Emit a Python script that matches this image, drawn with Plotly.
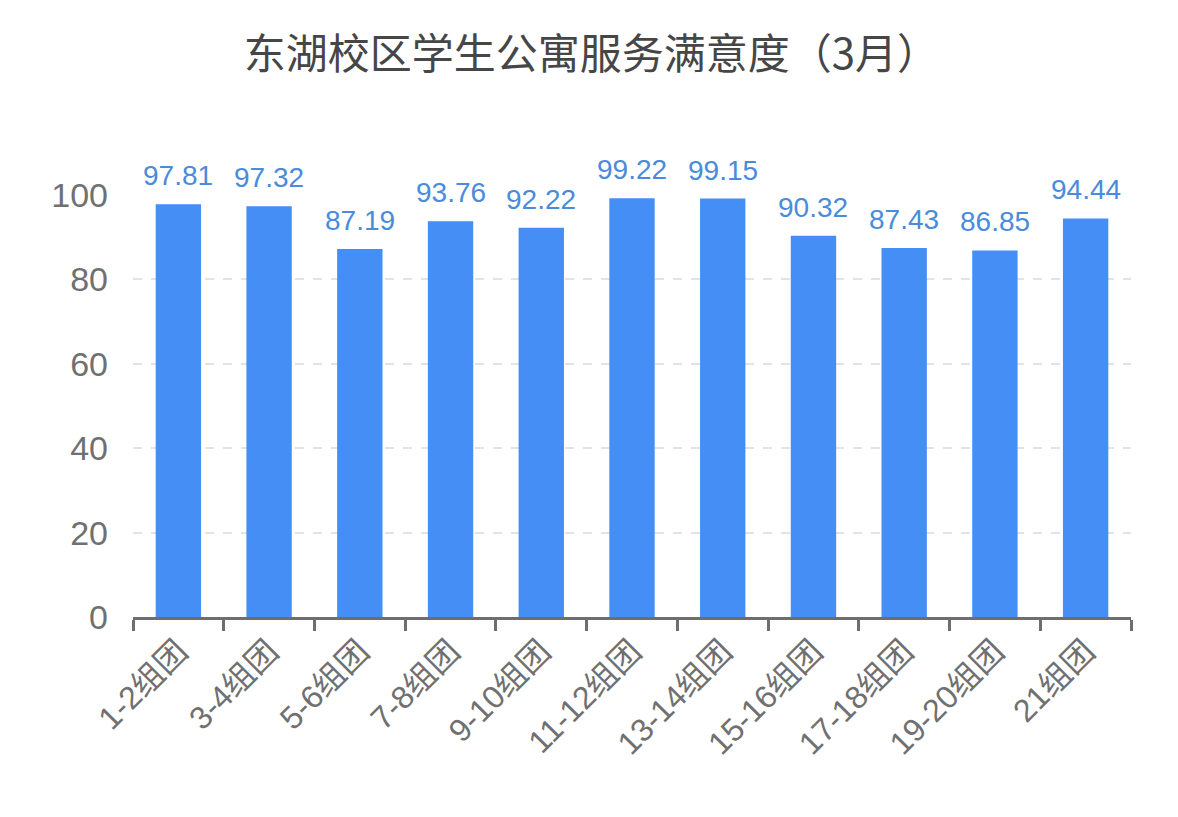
import plotly.graph_objects as go

# 东湖校区学生公寓服务满意度（3月）
groups = ["1-2组团", "3-4组团", "5-6组团", "7-8组团", "9-10组团", "11-12组团",
          "13-14组团", "15-16组团", "17-18组团", "19-20组团", "21组团"]
scores = [97.81, 97.32, 87.19, 93.76, 92.22, 99.22, 99.15, 90.32, 87.43, 86.85, 94.44]
y_ticks = [0, 20, 40, 60, 80, 100]

FONT = "Liberation Sans, Noto Sans CJK SC, sans-serif"
BAR_COLOR = "#458ef5"
LABEL_COLOR = "#4a8bdb"
AXIS_GREY = "#6e6e6e"

fig = go.Figure(go.Bar(
    x=groups,
    y=scores,
    marker=dict(color=BAR_COLOR, line=dict(width=0)),
    hovertemplate="%{x}: %{y:.2f}<extra></extra>",
))

# value labels sit a little higher than plotly's own outside text
for g, v in zip(groups, scores):
    fig.add_annotation(
        x=g, y=v, text=f"{v:.2f}",
        showarrow=False, yanchor="bottom", yshift=11,
        font=dict(size=28, color=LABEL_COLOR, family=FONT),
    )

# the page body has an 8px margin, so the figure is sized to fit inside it
fig.update_layout(
    width=1162,
    height=801,
    paper_bgcolor="white",
    plot_bgcolor="white",
    font=dict(family=FONT, color=AXIS_GREY),
    margin=dict(t=187, b=192, l=125, r=39),
    bargap=0.5,
    showlegend=False,
    title=dict(
        text="东湖校区学生公寓服务满意度（3月）",
        x=0.502, xanchor="center",
        y=0.942, yanchor="middle",
        font=dict(size=42, color="#464646", family="Noto Sans CJK SC, sans-serif"),
    ),
    xaxis=dict(
        type="category",
        tickangle=-45,
        tickfont=dict(size=32, color="#707070"),
        showline=True,
        linecolor=AXIS_GREY,
        linewidth=2.5,
        ticks="outside",
        tickson="boundaries",
        ticklen=11,
        tickwidth=2.5,
        tickcolor=AXIS_GREY,
        showgrid=False,
    ),
    yaxis=dict(
        range=[0, 100],
        tickvals=y_ticks,
        tickfont=dict(size=34, color="#707070"),
        showgrid=True,
        gridcolor="#e0e3ea",
        griddash="dash",
        gridwidth=1.5,
        zeroline=False,
        showline=False,
        ticks="",
        ticklabelstandoff=24,
    ),
)

fig.write_html("out.html")
